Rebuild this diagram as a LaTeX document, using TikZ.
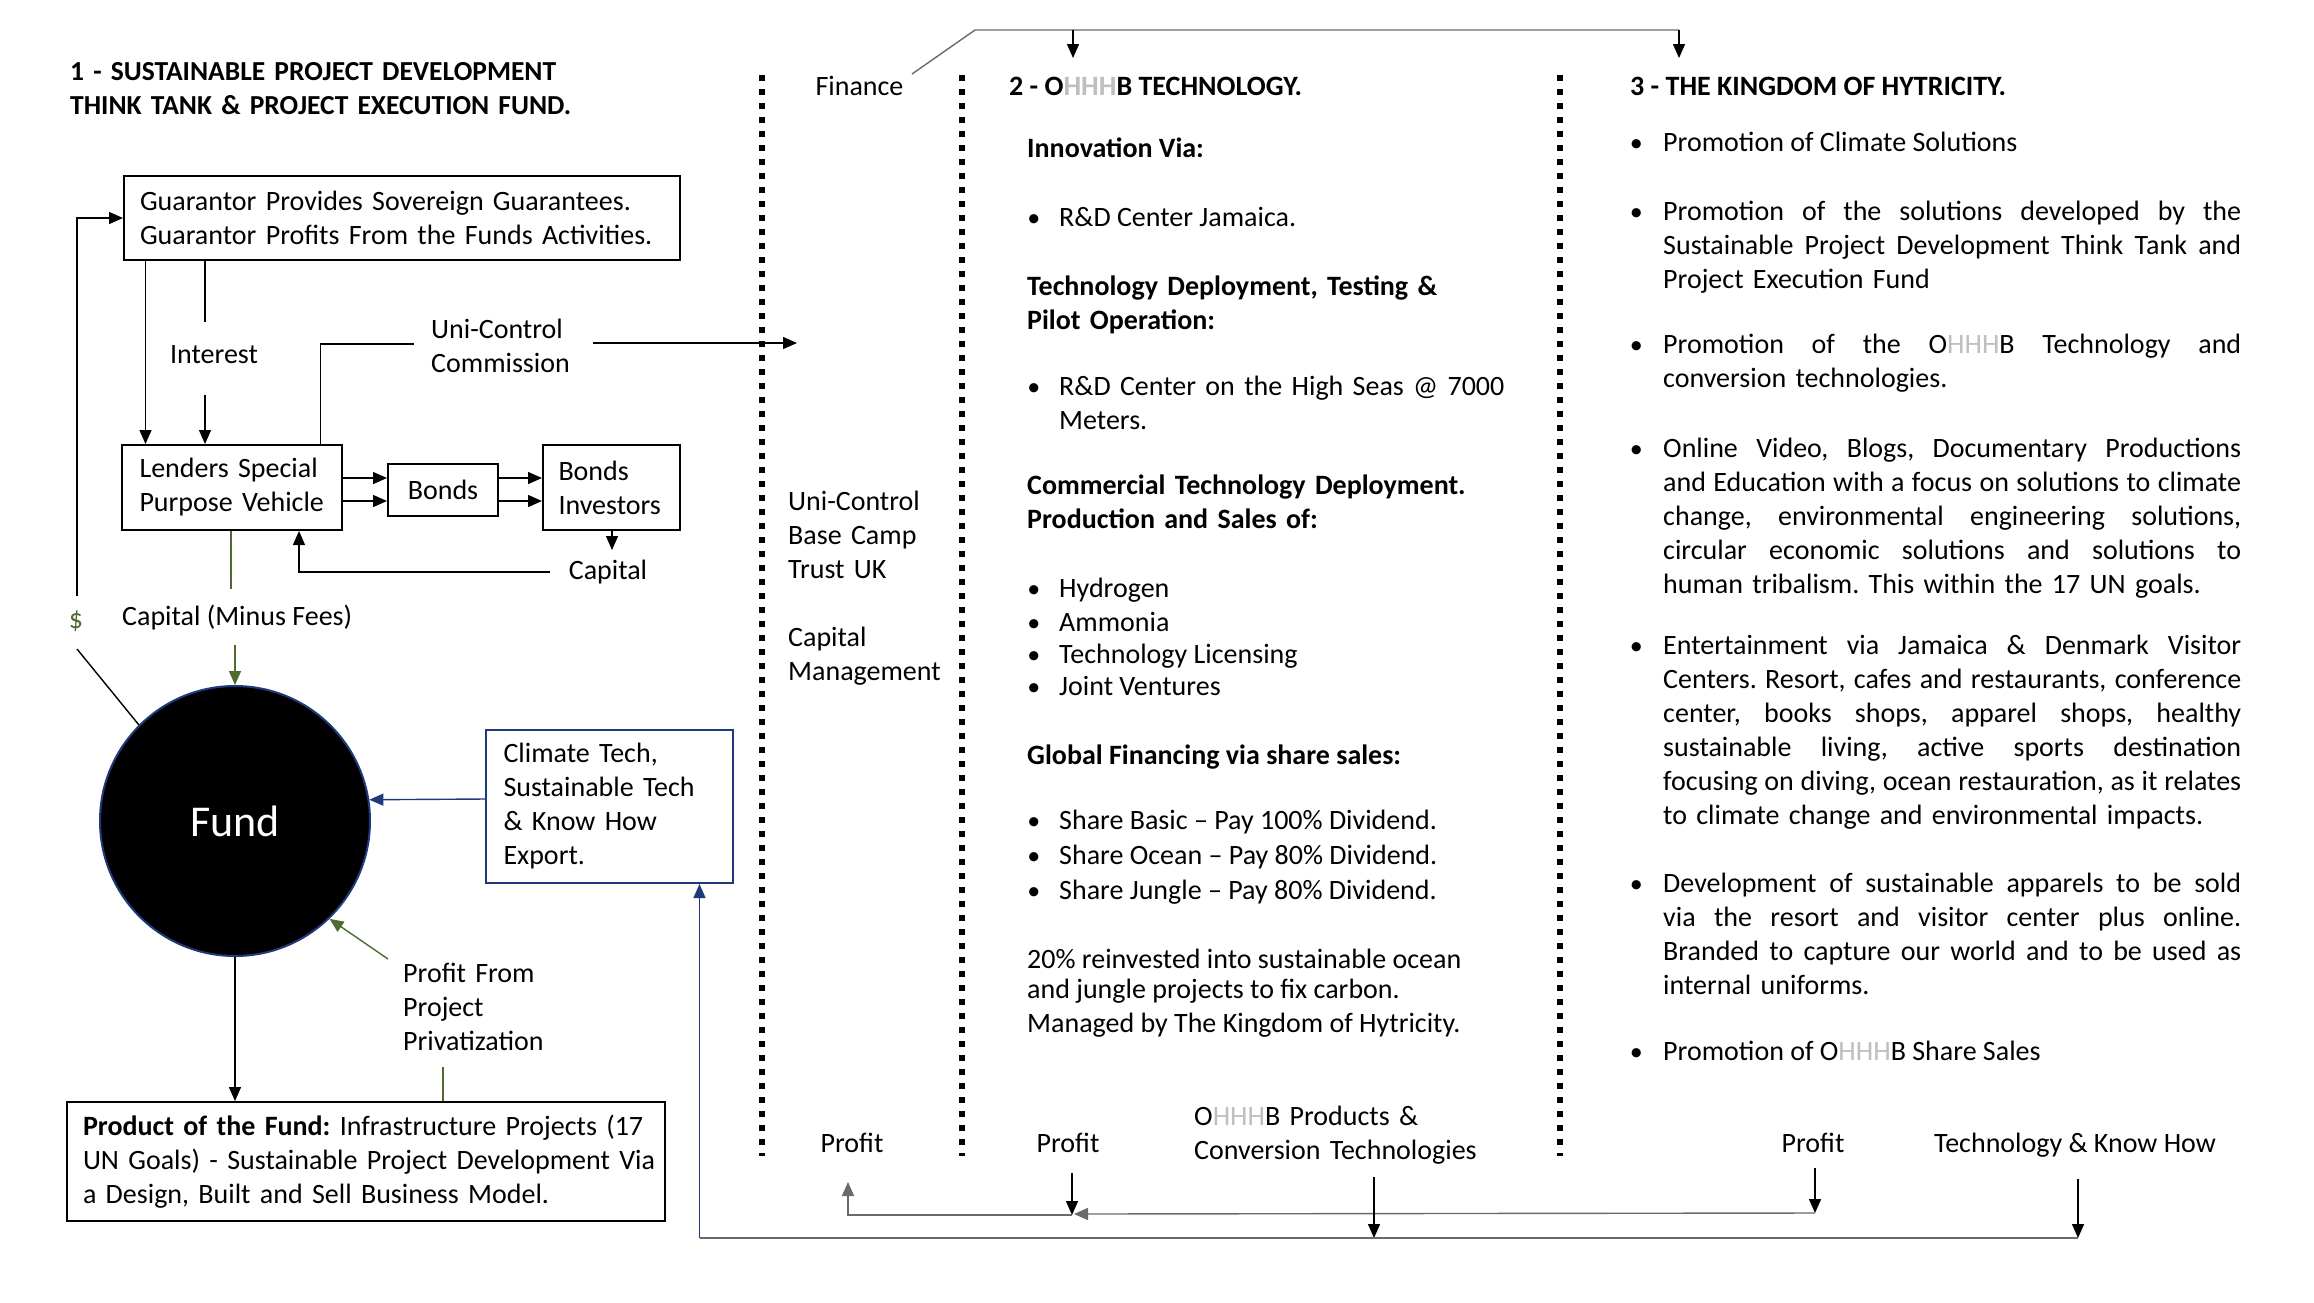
\documentclass[tikz,border=0pt]{standalone}
\usepackage{fontspec}
\setmainfont{Carlito}
\usetikzlibrary{arrows.meta,calc}
\definecolor{olive}{HTML}{4F6B2F}
\definecolor{navy}{HTML}{1F3A7A}
\definecolor{lg}{HTML}{BFBFBF}
\definecolor{lngray}{HTML}{6A6A6A}
\newcommand\hhh{O{\color{lg}HHH}B}
\newcommand\bul{\leavevmode\llap{{\fontsize{26}{26}\selectfont\textbullet}\hspace{19pt}}}
\newcommand\bulc{\leavevmode\llap{{\fontsize{26}{26}\selectfont\textbullet}\hspace{20.5pt}}}
\newcommand\jl[1]{\leavevmode\hbox to 578pt{\spaceskip=\fontdimen2\font plus 1fil minus .4\fontdimen2\font\relax #1}}
\newcommand\nb[1]{\leavevmode\hbox{#1}}
\begin{document}
\frenchspacing
\begin{tikzpicture}[x=1pt,y=-1pt,
  txt/.style={font=\fontsize{28}{34}\selectfont, inner sep=0pt, anchor=base west, align=left},
  ttl/.style={font=\fontsize{28}{34}\selectfont\bfseries, inner sep=0pt, anchor=base west, align=left},
  ctr/.style={font=\fontsize{28}{34}\selectfont, inner sep=0pt, anchor=base},
  box/.style={draw, line width=2pt, font=\fontsize{28}{34}\selectfont, align=left, inner ysep=0pt},
  ln/.style={line width=1.4pt},
  arr/.style={line width=1.4pt, -{Triangle[length=14pt,width=12pt]}},
  sep/.style={line width=6pt, dash pattern=on 6pt off 8pt}
]
\fill[white] (0,0) rectangle (2314,1302);
\useasboundingbox (0,0) rectangle (2314,1302);

% separators
\draw[sep] (761.5,75) -- (761.5,1156);
\draw[sep] (962,75) -- (962,1156);
\draw[sep] (1560,75) -- (1560,1156);

% ---------- section 1 ----------
\node[ttl, font=\fontsize{27.5}{34}\selectfont\bfseries, text width=600pt] (t1) at (70,80) {1 - SUSTAINABLE PROJECT DEVELOPMENT\\THINK TANK \& PROJECT EXECUTION FUND.};

\node[box, minimum width=556pt, minimum height=84pt, text width=524pt, inner xsep=16pt] (guar) at (402,218)
  {Guarantor Provides Sovereign Guarantees.\\Guarantor Profits From the Funds Activities.};
\node[box, minimum width=220pt, minimum height=85pt, text width=185pt, inner xsep=17.5pt] (lenders) at (232,487.5)
  {Lenders Special\\Purpose Vehicle};
\node[box, minimum width=110pt, minimum height=52pt, align=center] (bonds) at (443,490) {Bonds};
\node[box, minimum width=137pt, minimum height=85pt, text width=106pt, inner xsep=15.5pt] (invest) at (611.5,487.5)
  {Bonds\\Investors};
\node[box, draw=navy, minimum width=247pt, minimum height=153pt, text width=212pt, inner xsep=17.5pt] (climate) at (609.5,806.5)
  {Climate Tech,\\Sustainable Tech\\\& Know How\\Export.};
\node[box, minimum width=598pt, minimum height=119pt, text width=566pt, inner xsep=16pt] (product) at (366,1161.5)
  {\nb{\textbf{Product of the Fund:} Infrastructure Projects (17}\\\nb{UN Goals) - Sustainable Project Development Via}\\\nb{a Design, Built and Sell Business Model.}};
\node[circle, fill=black, draw=navy, line width=2pt, minimum size=270pt, inner sep=0pt, text=white,
  font=\fontsize{44}{52}\selectfont] (fund) at (235,821) {Fund};

\node[ctr] (intr) at (214,363) {Interest};
\node[txt, text width=200pt] (uc) at (431,338) {Uni-Control\\Commission};
\node[ctr] (cap) at (608,579) {Capital};
\node[txt] (cmf) at (122,625) {Capital (Minus Fees)};
\node[ctr, text=olive] (dollar) at (76,628) {\$};
\node[txt, text width=220pt] (ppp) at (403,982) {Profit From\\Project\\Privatization};

% connectors section 1
\coordinate (d1) at (77,596);
\coordinate (d2) at (77,649);
\draw[arr] (d1) |- (guar.west);
\draw[ln] (d2) -- (fund.north west);

\coordinate (xa) at (145.5,0);
\draw[arr] (xa |- guar.south) -- (xa |- lenders.north);

\coordinate (xi) at (205,0);
\coordinate (i1) at (205,321.5);
\coordinate (i2) at (205,395);
\draw[ln] (xi |- guar.south) -- (i1);
\draw[arr] (i2) -- (xi |- lenders.north);

\coordinate (xu) at (320.6,0);
\coordinate (u1) at (414,344);
\coordinate (u2) at (593,343);
\coordinate (u3) at (797,343);
\draw[ln] (xu |- lenders.north) |- (u1);
\draw[arr] (u2) -- (u3);

\coordinate (ya) at (0,478);
\coordinate (yb) at (0,501);
\draw[arr] (lenders.east |- ya) -- (bonds.west |- ya);
\draw[arr] (lenders.east |- yb) -- (bonds.west |- yb);
\draw[arr] (bonds.east |- ya) -- (invest.west |- ya);
\draw[arr] (bonds.east |- yb) -- (invest.west |- yb);

\coordinate (xc) at (612,0);
\coordinate (c1) at (612,550);
\draw[arr] (xc |- invest.south) -- (c1);
\coordinate (c2) at (550,572);
\coordinate (xl) at (299,0);
\draw[arr] (c2) -| (xl |- lenders.south);

\coordinate (xg) at (231,0);
\coordinate (g1) at (231,589);
\coordinate (g2) at (235,645);
\draw[ln, olive] (xg |- lenders.south) -- (g1);
\draw[arr, olive] (g2) -- (fund.north);

\coordinate (yc) at (0,799);
\draw[arr, navy] (climate.west |- yc) -- (fund.9);

\coordinate (p1) at (388,959);
\draw[arr, olive] (p1) -- (fund.-46);
\coordinate (p2) at (443,1067);
\draw[ln, olive] (p2) -- (p2 |- product.north);

\draw[arr] (fund.south) -- (fund.south |- product.north);

% ---------- middle column ----------
\node[ctr] (fin) at (859.5,95) {Finance};
\node[txt, text width=160pt] (ucb) at (788,510) {Uni-Control\\Base Camp\\Trust UK};
\node[txt, text width=160pt] (cm) at (788,646) {Capital\\Management};
\node[ctr] (profl) at (852,1152) {Profit};

% ---------- section 2 ----------
\node[ttl] (t2) at (1009,95) {2 - \hhh{} TECHNOLOGY.};
\node[ttl] (inv) at (1027,157.5) {Innovation Via:};
\node[txt] (rd1) at (1059,226) {\bul R\&D Center Jamaica.};
\node[ttl, text width=460pt] (tdt) at (1027,295) {Technology Deployment, Testing \&\\Pilot Operation:};
\node[txt, text width=460pt] (rd2) at (1059,395) {\bul R\&D Center on the High Seas @ 7000\\Meters.};
\node[ttl, text width=460pt] (ctd) at (1027,494.5) {Commercial Technology Deployment.\\Production and Sales of:};
\node[txt] (b1) at (1059,597) {\bul Hydrogen};
\node[txt] (b2) at (1059,631) {\bul Ammonia};
\node[txt] (b3) at (1059,663) {\bul Technology Licensing};
\node[txt] (b4) at (1059,695.5) {\bul Joint Ventures};
\node[ttl] (gf) at (1027,764) {Global Financing via share sales:};
\node[txt] (s1) at (1059,829.5) {\bul Share Basic – Pay 100\% Dividend.};
\node[txt] (s2) at (1059,864) {\bul Share Ocean – Pay 80\% Dividend.};
\node[txt] (s3) at (1059,899) {\bul Share Jungle – Pay 80\% Dividend.};
\node[txt] (r1) at (1027,968) {20\% reinvested into sustainable ocean};
\node[txt] (r2) at (1027,998) {and jungle projects to fix carbon.};
\node[txt] (r3) at (1027,1032) {Managed by The Kingdom of Hytricity.};
\node[ctr] (profm) at (1068,1152) {Profit};
\node[txt, text width=320pt] (prod) at (1194,1125) {\hhh{} Products \&\\Conversion Technologies};

% ---------- section 3 ----------
\node[ttl] (t3) at (1630,95) {3 - THE KINGDOM OF HYTRICITY.};
\node[txt] (q1) at (1663,151) {\bulc Promotion of Climate Solutions};
\node[txt, text width=582pt] (q2) at (1663,220) {\bulc\jl{Promotion of the solutions developed by the}\\
  \jl{Sustainable Project Development Think Tank and}\\Project Execution Fund};
\node[txt, text width=582pt] (q3) at (1663,353.4) {\bulc\jl{Promotion of the \hhh{} Technology and}\\conversion technologies.};
\node[txt, text width=582pt] (q4) at (1663,457) {\bulc\jl{Online Video, Blogs, Documentary Productions}\\
  \jl{and Education with a focus on solutions to climate}\\
  \jl{change, environmental engineering solutions,}\\
  \jl{circular economic solutions and solutions to}\\
  human tribalism. This within the 17 UN goals.};
\node[txt, text width=582pt] (q5) at (1663,654) {\bulc\jl{Entertainment via Jamaica \& Denmark Visitor}\\
  \jl{Centers. Resort, cafes and restaurants, conference}\\
  \jl{center, books shops, apparel shops, healthy}\\
  \jl{sustainable living, active sports destination}\\
  \jl{focusing on diving, ocean restauration, as it relates}\\
  to climate change and environmental impacts.};
\node[txt, text width=582pt] (q6) at (1663,892) {\bulc\jl{Development of sustainable apparels to be sold}\\
  \jl{via the resort and visitor center plus online.}\\
  \jl{Branded to capture our world and to be used as}\\
  internal uniforms.};
\node[txt] (q7) at (1663,1060) {\bulc Promotion of \hhh{} Share Sales};
\node[ctr] (profr) at (1813,1152) {Profit};
\node[ctr] (tkh) at (2075,1152) {Technology \& Know How};

% ---------- top connectors ----------
\coordinate (f1) at (912,74);
\coordinate (f2) at (975,30);
\coordinate (f3) at (1679,30);
\coordinate (f4) at (1679,58);
\coordinate (f5) at (1073,30);
\coordinate (f6) at (1073,58);
\draw[ln, lngray] (f1) -- (f2) -- (f3);
\draw[arr] (f3) -- (f4);
\draw[arr] (f5) -- (f6);

% ---------- bottom connectors ----------
\coordinate (rr1) at (1815,1168);
\coordinate (rr2) at (1815,1213);
\coordinate (mm0) at (1074,1214);
\coordinate (mm1) at (1072,1173);
\coordinate (mm2) at (1072,1215);
\coordinate (ll1) at (848,1182);
\draw[arr] (rr1) -- (rr2);
\draw[arr, lngray] (rr2) -- (mm0);
\draw[arr] (mm1) -- (mm2);
\draw[arr, lngray] (mm2) -| (ll1);

\coordinate (oo1) at (1374,1177);
\coordinate (oo2) at (1374,1238);
\draw[arr] (oo1) -- (oo2);

\coordinate (tt1) at (2078,1179);
\coordinate (tt2) at (2078,1238);
\coordinate (xb) at (699.5,0);
\draw[ln, lngray] (tt2) -- (xb |- tt2);
\draw[arr] (tt1) -- (tt2);
\draw[arr, navy] (xb |- tt2) -- (xb |- climate.south);
\end{tikzpicture}
\end{document}
